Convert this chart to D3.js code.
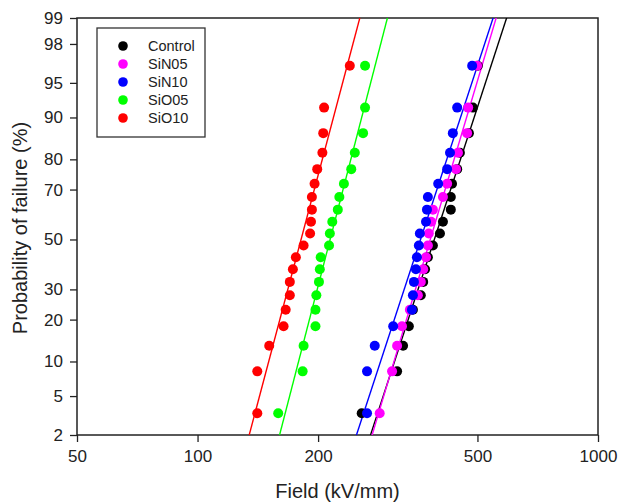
<!DOCTYPE html>
<html>
<head>
<meta charset="utf-8">
<script src="https://cdn.jsdelivr.net/npm/d3@7"></script>
<style>
  html, body { margin: 0; padding: 0; background: #fff; }
  svg { display: block; font-family: "Liberation Sans", Arial, sans-serif; }
</style>
</head>
<body>
<div id="chart"></div>
<script>
// cumulative failure probability (%) for each of the 20 ranked samples
const probs = [3.4, 8.3, 13.2, 18.1, 23.0, 27.9, 32.8, 37.7, 42.6, 47.5,
               52.5, 57.4, 62.3, 67.2, 72.1, 77.0, 81.9, 86.8, 91.7, 96.6];

// breakdown field (kV/mm), ranked
const control = [257, 315, 326, 337, 345, 361, 366, 370, 376, 387, 403, 410, 429, 429, 432, 445, 452, 476, 487, 501];
const siN05  = [285, 306, 315, 324, 339, 355, 361, 366, 372, 376, 378, 383, 387, 410, 420, 442, 447, 471, 474, 499];
const siN10  = [265, 265, 277, 308, 343, 345, 347, 351, 353, 357, 359, 372, 374, 376, 399, 420, 427, 434, 445, 485];
const siO05  = [159, 183, 184, 197, 197, 198, 201, 202, 203, 213, 214, 217, 224, 226, 232, 242, 247, 259, 262, 262];
const siO10  = [141, 141, 151, 164, 166, 170, 170, 173, 176, 184, 191, 192, 193, 193, 196, 199, 205, 206, 207, 240];

const seriesNames = ["Control", "SiN05", "SiN10", "SiO05", "SiO10"];
const seriesValues = [control, siN05, siN10, siO05, siO10];
const seriesColors = ["#000000", "#ff00ff", "#0000ff", "#00ff00", "#ff0000"];

const xTicks = [50, 100, 200, 500, 1000];
const yTicks = [2, 5, 10, 20, 30, 50, 70, 80, 90, 95, 98, 99];

// inverse normal CDF (Acklam)
function probit(p) {
    const a = [-3.969683028665376e+01, 2.209460984245205e+02, -2.759285104469687e+02, 1.383577518672690e+02, -3.066479806614716e+01, 2.506628277459239e+00];
    const b = [-5.447609879822406e+01, 1.615858368580409e+02, -1.556989798598866e+02, 6.680131188771972e+01, -1.328068155288572e+01];
    const c = [-7.784894002430293e-03, -3.223964580411365e-01, -2.400758277161838e+00, -2.549732539343734e+00, 4.374664141464968e+00, 2.938163982698783e+00];
    const d = [7.784695709041462e-03, 3.224671290700398e-01, 2.445134137142996e+00, 3.754408661907416e+00];
    const pl = 0.02425;
    let q, r;
    if (p < pl) {
        q = Math.sqrt(-2 * Math.log(p));
        return (((((c[0]*q+c[1])*q+c[2])*q+c[3])*q+c[4])*q+c[5]) / ((((d[0]*q+d[1])*q+d[2])*q+d[3])*q+1);
    } else if (p <= 1 - pl) {
        q = p - 0.5; r = q * q;
        return (((((a[0]*r+a[1])*r+a[2])*r+a[3])*r+a[4])*r+a[5])*q / (((((b[0]*r+b[1])*r+b[2])*r+b[3])*r+b[4])*r+1);
    } else {
        q = Math.sqrt(-2 * Math.log(1 - p));
        return -(((((c[0]*q+c[1])*q+c[2])*q+c[3])*q+c[4])*q+c[5]) / ((((d[0]*q+d[1])*q+d[2])*q+d[3])*q+1);
    }
}

const width = 618, height = 504;
const m = { t: 18, r: 20, b: 69, l: 77 };
const iw = width - m.l - m.r, ih = height - m.t - m.b;

const svg = d3.select("#chart").append("svg").attr("width", width).attr("height", height);
const g = svg.append("g").attr("transform", `translate(${m.l},${m.t})`);

const x = d3.scaleLog().domain([50, 1000]).range([0, iw]);
const z = d3.scaleLinear().domain([probit(0.02), probit(0.99)]).range([ih, 0]);
const y = p => z(probit(p / 100));

svg.append("defs").append("clipPath").attr("id", "clip")
    .append("rect").attr("width", iw).attr("height", ih);

// axes
const xAxis = g.append("g").attr("transform", `translate(0,${ih})`)
    .call(d3.axisBottom(x).tickValues(xTicks).tickFormat(d3.format("d")).tickSize(7).tickSizeOuter(0).tickPadding(8));
const yAxis = g.append("g")
    .call(d3.axisLeft(z).tickValues(yTicks.map(p => probit(p / 100)))
        .tickFormat((d, i) => yTicks[i]).tickSize(7).tickSizeOuter(0).tickPadding(7));

[xAxis, yAxis].forEach(a => {
    a.selectAll("text").attr("font-size", 17).attr("fill", "#222").attr("font-family", "Liberation Sans, Arial, sans-serif");
    a.selectAll("line").attr("stroke", "#222").attr("stroke-width", 1.3);
    a.select(".domain").remove();
});

g.append("rect").attr("width", iw).attr("height", ih)
    .attr("fill", "none").attr("stroke", "#222").attr("stroke-width", 1.5);

// fitted lines: regression of probit on log(field)
const plot = g.append("g").attr("clip-path", "url(#clip)");
seriesValues.forEach((vals, k) => {
    const lx = vals.map(v => Math.log10(v));
    const zz = probs.map(p => probit(p / 100));
    const mx = d3.mean(lx), mz = d3.mean(zz);
    let sxy = 0, sxx = 0;
    lx.forEach((v, i) => { sxy += (v - mx) * (zz[i] - mz); sxx += (v - mx) * (v - mx); });
    const slope = sxy / sxx;
    const fx = zv => Math.pow(10, mx + (zv - mz) / slope);
    const z0 = probit(0.01), z1 = probit(0.995);
    plot.append("line")
        .attr("x1", x(fx(z0))).attr("y1", z(z0))
        .attr("x2", x(fx(z1))).attr("y2", z(z1))
        .attr("stroke", seriesColors[k]).attr("stroke-width", 1.4);
});

// points
seriesValues.forEach((vals, k) => {
    plot.append("g").selectAll("circle")
        .data(vals).enter().append("circle")
        .attr("cx", d => x(d)).attr("cy", (d, i) => y(probs[i]))
        .attr("r", 5).attr("fill", seriesColors[k]);
});

// legend
const lg = svg.append("g").attr("transform", "translate(97,28)");
lg.append("rect").attr("width", 108).attr("height", 109)
    .attr("fill", "#fff").attr("stroke", "#333").attr("stroke-width", 1.3);
seriesNames.forEach((name, k) => {
    const row = lg.append("g").attr("transform", `translate(0,${18 + k * 18})`);
    row.append("circle").attr("cx", 26).attr("cy", 0).attr("r", 4.8).attr("fill", seriesColors[k]);
    row.append("text").attr("x", 51).attr("y", 5).attr("font-size", 14.5).attr("fill", "#222").text(name);
});

// axis titles
svg.append("text").attr("transform", `translate(${m.l + iw / 2},498)`)
    .attr("text-anchor", "middle").attr("font-size", 20).attr("fill", "#222").text("Field (kV/mm)");
svg.append("text").attr("transform", `translate(27,228) rotate(-90)`)
    .attr("text-anchor", "middle").attr("font-size", 20).attr("fill", "#222").text("Probability of failure (%)");
</script>
</body>
</html>
